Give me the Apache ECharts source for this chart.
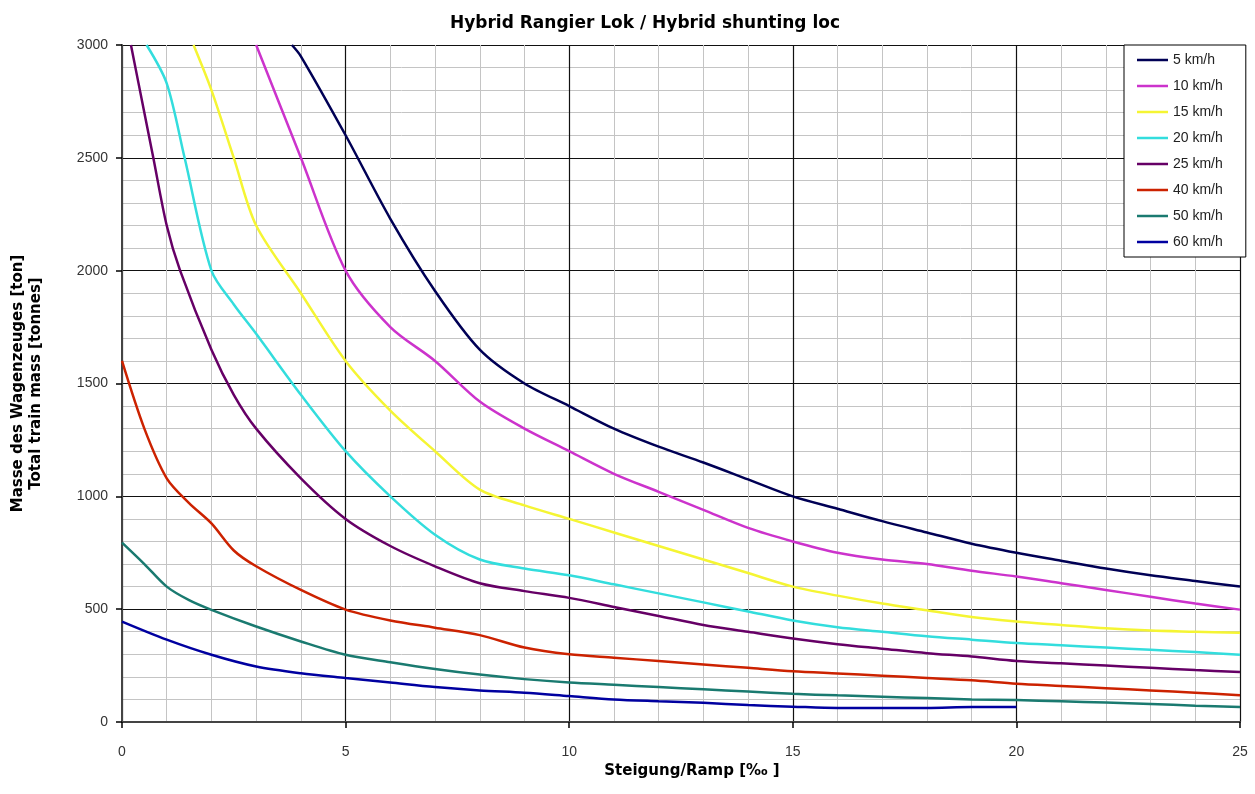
<!DOCTYPE html>
<html>
<head>
<meta charset="utf-8">
<script src="https://cdn.jsdelivr.net/npm/echarts@6/dist/echarts.min.js"></script>
<style>
  html, body { margin: 0; padding: 0; background: #fff; }
  #chart { width: 1255px; height: 794px; }
</style>
</head>
<body>
<div id="chart"></div>
<script type="text/javascript">
// Steigung [‰] , Masse [t]
var names = ['5 km/h', '10 km/h', '15 km/h', '20 km/h', '25 km/h', '40 km/h', '50 km/h', '60 km/h'];
var colors = ['#000055', '#cc33cc', '#f5f533', '#33dddd', '#660066', '#cc2200', '#1a7a70', '#0000a0'];

var v5 = [[3.8,3000],[4,2950],[5,2600],[6,2230],[7,1910],[8,1650],[9,1500],[10,1400],[11,1300],[12,1220],[13,1150],[14,1075],[15,1000],[16,945],[17,890],[18,840],[19,790],[20,750],[21,715],[22,680],[23,650],[24,625],[25,600]];
var v10 = [[3.0,3000],[4,2500],[5,2000],[6,1750],[7,1600],[8,1420],[9,1300],[10,1200],[11,1100],[12,1020],[13,940],[14,860],[15,800],[16,750],[17,720],[18,700],[19,670],[20,645],[21,615],[22,585],[23,555],[24,525],[25,498]];
var v15 = [[1.6,3000],[2,2800],[2.5,2500],[3,2200],[4,1900],[5,1600],[6,1380],[7,1200],[8,1030],[9,960],[10,900],[11,840],[12,780],[13,720],[14,660],[15,600],[16,560],[17,525],[18,495],[19,465],[20,445],[21,430],[22,415],[23,405],[24,400],[25,395]];
var v20 = [[0.55,3000],[1,2830],[1.4,2500],[2,2000],[2.5,1850],[3,1720],[4,1450],[5,1200],[6,1000],[7,830],[8,720],[9,680],[10,650],[11,610],[12,570],[13,530],[14,490],[15,450],[16,420],[17,400],[18,380],[19,365],[20,350],[21,340],[22,330],[23,320],[24,310],[25,298]];
var v25 = [[0.2,3000],[0.5,2700],[0.7,2500],[1,2200],[1.3,2000],[2,1650],[2.5,1450],[3,1300],[4,1080],[5,900],[6,780],[7,690],[8,615],[9,580],[10,550],[11,510],[12,470],[13,430],[14,400],[15,370],[16,345],[17,325],[18,305],[19,290],[20,270],[21,260],[22,250],[23,240],[24,230],[25,222]];
var v40 = [[0,1600],[0.5,1300],[1,1080],[1.5,970],[2,880],[2.5,760],[3,690],[4,585],[5,498],[6,450],[7,418],[8,385],[9,330],[10,300],[11,285],[12,270],[13,255],[14,240],[15,225],[16,215],[17,205],[18,195],[19,185],[20,170],[21,160],[22,150],[23,140],[24,130],[25,118]];
var v50 = [[0,795],[0.5,700],[1,600],[1.5,540],[2,497],[3,423],[4,357],[5,298],[6,265],[7,235],[8,210],[9,190],[10,175],[11,165],[12,155],[13,145],[14,135],[15,125],[16,118],[17,112],[18,106],[19,100],[20,97],[21,92],[22,86],[23,80],[24,72],[25,66]];
var v60 = [[0,445],[1,365],[2,298],[3,246],[4,216],[5,195],[6,175],[7,155],[8,140],[9,130],[10,115],[11,100],[12,92],[13,85],[14,75],[15,68],[16,62],[17,62],[18,62],[19,66],[20,66]];

var allData = [v5, v10, v15, v20, v25, v40, v50, v60];

var myChart = echarts.init(document.getElementById('chart'));

var series = [];
for (var i = 0; i < names.length; i++) {
    series.push({
        name: names[i],
        type: 'line',
        data: allData[i],
        symbol: 'none',
        smooth: 0.3,
        clip: true,
        lineStyle: { color: colors[i], width: 2.5 },
        itemStyle: { color: colors[i] }
    });
}

myChart.setOption({
    animation: false,
    title: {
        text: 'Hybrid Rangier Lok / Hybrid shunting loc',
        left: 640,
        top: 10,
        textAlign: 'center',
        textStyle: { fontFamily: 'DejaVu Sans', fontWeight: 'bold', fontSize: 17, color: '#000' }
    },
    legend: {
        orient: 'vertical',
        left: 1124,
        top: 45,
        padding: [8, 23, 8, 13],
        itemGap: 12,
        itemWidth: 31,
        itemHeight: 14,
        itemTextGap: 3,
        icon: 'path://M0,6 L31,6 L31,8.5 L0,8.5 Z',
        backgroundColor: '#fff',
        borderColor: '#000',
        borderWidth: 1,
        borderRadius: 0,
        textStyle: { fontFamily: 'Liberation Sans', fontSize: 14, color: '#222' },
        data: names
    },
    grid: { left: 122, right: 15, top: 45, bottom: 72 },
    xAxis: {
        type: 'value',
        min: 0, max: 25, interval: 5,
        name: 'Steigung/Ramp [‰ ]',
        nameLocation: 'middle',
        nameGap: 42,
        nameMoveOverlap: false,
        nameTextStyle: { fontFamily: 'DejaVu Sans', fontWeight: 'bold', fontSize: 15, color: '#000', padding: [0, 0, 0, 22] },
        axisLine: { show: true, lineStyle: { color: '#444', width: 2 } },
        axisTick: { show: true, length: 6, lineStyle: { color: '#000', width: 1.5 } },
        axisLabel: { fontFamily: 'Liberation Sans', fontSize: 14, color: '#333', margin: 23 },
        splitLine: { show: true, lineStyle: { color: '#111', width: 1.2 } },
        minorTick: { show: false, splitNumber: 5 },
        minorSplitLine: { show: true, lineStyle: { color: '#c4c4c4', width: 1 } }
    },
    yAxis: {
        type: 'value',
        min: 0, max: 3000, interval: 500,
        name: 'Masse des Wagenzeuges [ton]\nTotal train mass [tonnes]',
        nameLocation: 'middle',
        nameGap: 77,
        nameMoveOverlap: false,
        nameRotate: 90,
        nameTextStyle: { fontFamily: 'DejaVu Sans', fontWeight: 'bold', fontSize: 15, color: '#000', lineHeight: 18 },
        axisLine: { show: true, lineStyle: { color: '#444', width: 2 } },
        axisTick: { show: true, length: 6, lineStyle: { color: '#000', width: 1.5 } },
        axisLabel: { fontFamily: 'Liberation Sans', fontSize: 14, color: '#333', margin: 14, formatter: function (v) { return String(v); } },
        splitLine: { show: true, lineStyle: { color: '#111', width: 1.2 } },
        minorTick: { show: false, splitNumber: 5 },
        minorSplitLine: { show: true, lineStyle: { color: '#c4c4c4', width: 1 } }
    },
    series: series
});
</script>
</body>
</html>
